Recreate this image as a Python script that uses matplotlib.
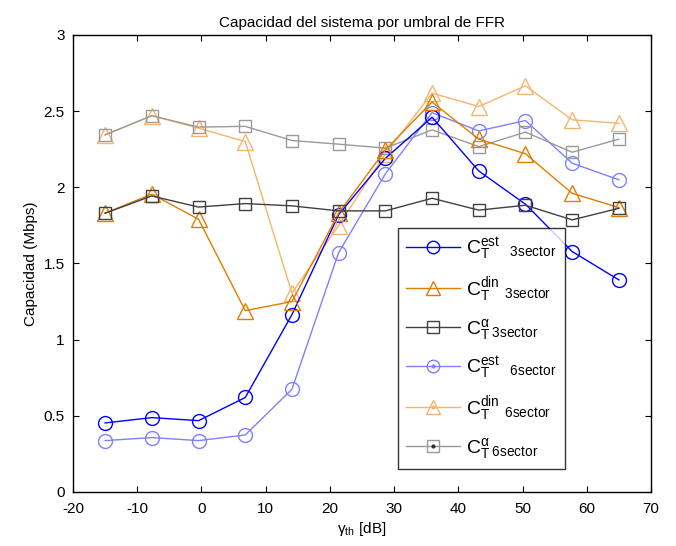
import matplotlib
matplotlib.use("Agg")
import matplotlib.pyplot as plt
from matplotlib.lines import Line2D

plt.rcParams['font.family'] = ['Liberation Sans', 'DejaVu Sans']
plt.rcParams['mathtext.fontset'] = 'custom'
plt.rcParams['mathtext.rm'] = 'Liberation Sans'
plt.rcParams['mathtext.it'] = 'Liberation Sans'
plt.rcParams['axes.unicode_minus'] = False

# umbral FFR (dB)
gamma_th = [-15, -7.73, -0.45, 6.82, 14.09, 21.36, 28.64, 35.91, 43.18, 50.45, 57.73, 65]

# capacidad (Mbps)
est_3 = [0.453, 0.488, 0.468, 0.62, 1.164, 1.82, 2.19, 2.46, 2.107, 1.889, 1.578, 1.392]
din_3 = [1.83, 1.955, 1.79, 1.19, 1.25, 1.83, 2.245, 2.56, 2.316, 2.22, 1.96, 1.867]
alpha_3 = [1.83, 1.943, 1.87, 1.893, 1.878, 1.845, 1.845, 1.928, 1.85, 1.882, 1.786, 1.862]
est_6 = [0.337, 0.357, 0.337, 0.374, 0.674, 1.571, 2.088, 2.49, 2.37, 2.438, 2.158, 2.049]
din_6 = [2.344, 2.47, 2.388, 2.30, 1.305, 1.749, 2.22, 2.618, 2.53, 2.666, 2.443, 2.42]
alpha_6 = [2.344, 2.47, 2.395, 2.40, 2.307, 2.283, 2.257, 2.377, 2.267, 2.362, 2.23, 2.316]

labels = [r'$\mathregular{C^{est}_{T}}\ \ {}_{\mathregular{3sector}}$',
          r'$\mathregular{C^{din}_{T}}\ {}_{\mathregular{3sector}}$',
          r'$\mathregular{C^{\alpha}_{T}}\,{}_{\mathregular{3sector}}$',
          r'$\mathregular{C^{est}_{T}}\ \ {}_{\mathregular{6sector}}$',
          r'$\mathregular{C^{din}_{T}}\ {}_{\mathregular{6sector}}$',
          r'$\mathregular{C^{\alpha}_{T}}\,{}_{\mathregular{6sector}}$']

series = [est_3, din_3, alpha_3, est_6, din_6, alpha_6]
colors = ['#0000ff', '#e07d00', '#404040', '#8080ff', '#f5b56e', '#9a9a9a']
markers = ['o', '^', 's', 'o', '^', 's']
msizes = [10, 11, 9, 10, 11, 9]

fig = plt.figure(figsize=(6.76, 5.46), dpi=100)
ax = fig.add_axes([0.108, 0.099, 0.855, 0.837])

# 6sector first so 3sector lines sit on top
order = [3, 4, 5, 0, 1, 2]
for i in order:
    ax.plot(gamma_th, series[i], color=colors[i], lw=1.0, marker=markers[i],
            ms=msizes[i], mfc='none', mec=colors[i], mew=1.0)

# legend handles (6sector ones carry a center dot)
handles = []
for i in range(6):
    h = Line2D([], [], color=colors[i], lw=1.0, marker=markers[i], ms=msizes[i] - 1,
               mfc='none', mec=colors[i], mew=1.0)
    if i >= 3:
        d = Line2D([], [], ls='none', marker='.', ms=4, color=colors[i] if i != 5 else '#303030')
        handles.append((h, d))
    else:
        handles.append(h)

leg = ax.legend(handles, labels, loc='upper left', bbox_to_anchor=(0.562, 0.578, 0.289, 0.0),
                mode='expand', fontsize=14, frameon=True, fancybox=False, handlelength=2.8,
                borderpad=0.4, labelspacing=0.66, handletextpad=0.3, borderaxespad=0)
leg.get_frame().set_edgecolor('black')
leg.get_frame().set_linewidth(1.0)

ax.set_xlim(-20, 70)
ax.set_ylim(0, 3)
ax.set_xticks(range(-20, 71, 10))
ax.set_yticks([0, 0.5, 1, 1.5, 2, 2.5, 3])
ax.set_yticklabels(['0', '0.5', '1', '1.5', '2', '2.5', '3'])
ax.tick_params(direction='in', top=True, right=True, labelsize=11, length=4)
ax.tick_params(axis='x', pad=7)
ax.tick_params(axis='y', pad=6)
for s in ax.spines.values():
    s.set_linewidth(1.0)

ax.set_title('Capacidad del sistema por umbral de FFR', fontsize=11)
ax.set_xlabel(r'$\mathregular{\gamma_{th}}$ [dB]', fontsize=11, labelpad=3)
ax.set_ylabel('Capacidad (Mbps)', fontsize=11)

fig.savefig('out.png', dpi=100)
